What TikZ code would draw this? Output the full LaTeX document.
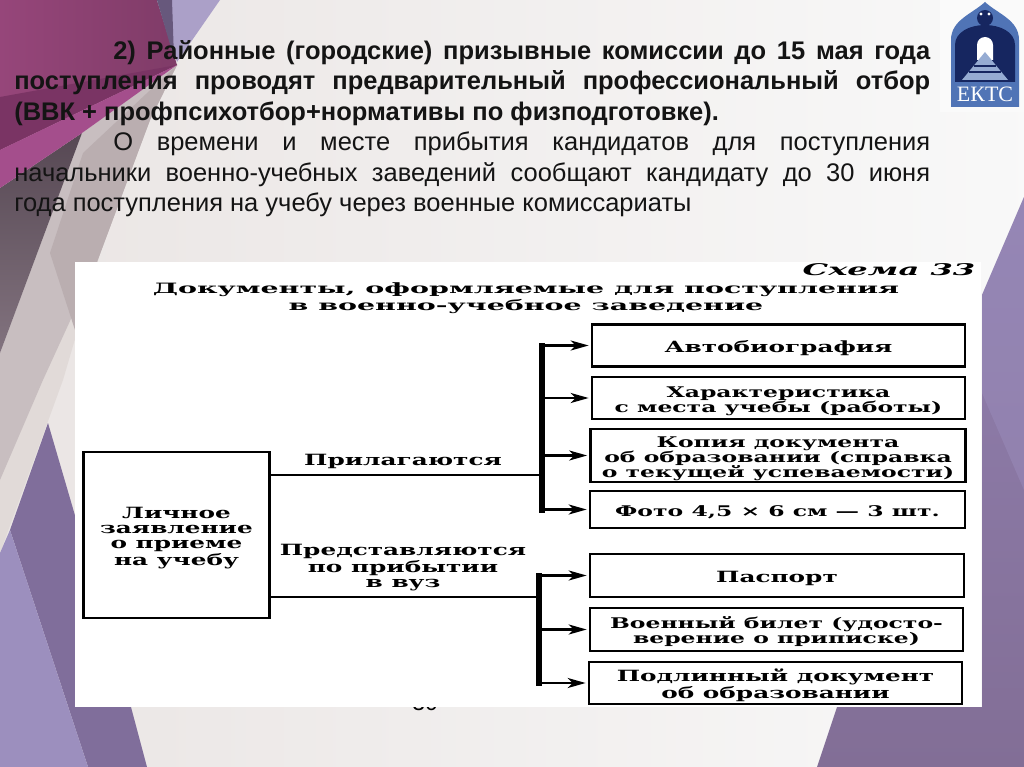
\documentclass[tikz,border=0pt]{standalone}
\usepackage{fontspec}
\setmainfont{Liberation Sans}
\newfontfamily\scanfont[FakeStretch=1.6]{DejaVu Serif}
\newfontfamily\headfont[FakeStretch=2]{DejaVu Serif}
\newfontfamily\logofont{Liberation Serif}
\usetikzlibrary{arrows.meta}
\definecolor{plumtop}{RGB}{150,70,122}
\definecolor{plumdark}{RGB}{122,52,100}
\definecolor{plumpink}{RGB}{164,78,140}
\definecolor{greydark}{RGB}{108,90,104}
\definecolor{greybrown}{RGB}{200,190,192}
\definecolor{greyshade}{RGB}{186,174,176}
\definecolor{greypale}{RGB}{225,218,216}
\definecolor{violetdark}{RGB}{128,110,155}
\definecolor{violetlight}{RGB}{156,143,190}
\definecolor{violettop}{RGB}{145,128,175}
\definecolor{violetlow}{RGB}{130,110,150}
\definecolor{logoblue}{RGB}{80,116,182}
\definecolor{logonavy}{RGB}{22,38,96}
\tikzset{
  docbox/.style={draw,line width=.055cm,fill=white,inner sep=0pt,align=center,
    font=\scanfont\bfseries\fontsize{8.8}{8.6}\selectfont},
  densebox/.style={docbox,font=\scanfont\bfseries\fontsize{8.35}{8.6}\selectfont},
  schemetext/.style={inner sep=0pt,align=center,
    font=\scanfont\bfseries\fontsize{8.8}{8.6}\selectfont},
  feedline/.style={line width=.055cm},
  busline/.style={line width=.12cm},
  branchline/.style={line width=.055cm,shorten >=.04cm,-{Stealth[length=.36cm,width=.2cm,inset=.1cm]}},
}
\begin{document}
\begin{tikzpicture}[x=.02cm,y=-.02cm]
  \useasboundingbox (0,0) rectangle (1024,767);
  \shade[left color=greypale!70!white,right color=white!95!gray] (0,0) rectangle (1024,767);
  % left wedges
  \fill[greypale] (177,65) -- (150,120) -- (110,220) -- (63,380) -- (0,553) -- (0,353) -- (82,133) -- cycle;
  \fill[greybrown] (177,65) -- (150,120) -- (97,262) -- (43,380) -- (0,480) -- (0,353) -- (82,133) -- cycle;
  \fill[greyshade] (177,65) -- (150,120) -- (97,262) -- (75,330) -- (50,253) -- (83,153) -- cycle;
  \shade[top color=greydark!80!black,bottom color=greydark!85!white] (82,133) -- (0,188) -- (0,353) -- cycle;
  \shade[left color=plumtop,right color=plumtop!85!black] (0,0) -- (157,0) -- (177,65) -- (0,150) -- cycle;
  \fill[plumdark] (0,97) -- (177,65) -- (0,150) -- cycle;
  \fill[plumpink] (0,150) -- (177,65) -- (82,133) -- (0,188) -- cycle;
  \fill[violetlight!85!white] (157,0) -- (220,0) -- (177,62) -- cycle;
  \fill[violetdark!80!black] (157,0) -- (172,0) -- (174,58) -- cycle;
  % lower left and right wedges
  \fill[violetdark] (48,423) -- (131,707) -- (147,767) -- (88,767) -- (10,530) -- cycle;
  \fill[violetlight] (10,530) -- (88,767) -- (0,767) -- (0,553) -- cycle;
  \shade[top color=violettop,bottom color=violetlow] (1024,197) -- (982,295) -- (982,707) -- (837,707) -- (817,767) -- (1024,767) -- cycle;
  \fill[violetlight,opacity=.45] (982,295) -- (1024,197) -- (1024,490) -- (982,393) -- cycle;
  \fill[white!96!gray] (940,0) rectangle (1024,112);
  % emblem
  \fill[logoblue] (951,107) -- (951,40) .. controls (951,20) and (972,14) .. (985,2) .. controls (998,14) and (1019,20) .. (1019,40) -- (1019,107) -- cycle;
  \fill[logonavy] (955,82) -- (955,45) .. controls (955,32) and (970,25) .. (985,25) .. controls (1000,25) and (1015,32) .. (1015,45) -- (1015,82) -- cycle;
  \fill[white] (977,60) -- (977,45) arc[start angle=180,end angle=360,radius=8] -- (993,60) -- cycle;
  \fill[logoblue!60!white] (985,52) -- (1008,80) -- (962,80) -- cycle;
  \draw[logonavy,line width=.03cm] (974,66) -- (996,66) (969,72) -- (1001,72);
  \fill[logonavy] (985,18) circle[radius=8];
  \fill[white] (981,14) circle[radius=1.6] (989,14) circle[radius=1.6];
  \node[text=white,inner sep=0pt,font=\logofont\fontsize{12.5}{13}\selectfont] (emblem) at (985,94) {ЕКТС};
  % page number under the panel
  \node[inner sep=0pt,anchor=base,font=\fontsize{13}{14}\selectfont] (pagenum) at (425,710.5) {30};
  % slide text
  \node[anchor=north west,inner sep=0pt,text width=18.32cm,align=justify,text=black!92] (lead) at (14,40) {%
    \fontsize{14.5}{17.36}\selectfont
    \leavevmode\hspace*{1.98cm}\textbf{2) Районные (городские) призывные комиссии до 15 мая года\linebreak
    поступления проводят предварительный профессиональный отбор\linebreak
    (ВВК + профпсихотбор+нормативы по физподготовке).}\par
    \leavevmode\hspace*{1.98cm}О времени и месте прибытия кандидатов для поступления\linebreak
    начальники военно-учебных заведений сообщают кандидату до 30 июня\linebreak
    года поступления на учебу через военные комиссариаты\par};
  % scheme panel
  \fill[white] (75,262) rectangle (981,707);
  \node[schemetext,font=\headfont\bfseries\itshape\fontsize{9.15}{10}\selectfont] (schemenum) at (889,270) {Схема 33};
  \node[schemetext,font=\headfont\bfseries\fontsize{8.1}{9.7}\selectfont] (schemetitle) at (526,298.5) {Документы, оформляемые для поступления\\в военно-учебное заведение};
  \node[docbox,minimum width=3.72cm,minimum height=3.32cm] (zayav) at (176.5,535) {\rule{0pt}{9.5pt}Личное\\заявление\\о приеме\\на учебу};
  \node[docbox,minimum width=7.46cm,minimum height=.84cm] (avto) at (778.5,345.5) {\rule{0pt}{9.5pt}Автобиография};
  \node[densebox,minimum width=7.46cm,minimum height=.84cm] (harakt) at (778.5,398) {\rule{0pt}{9.5pt}Характеристика\\с места учебы (работы)};
  \node[densebox,minimum width=7.5cm,minimum height=1.06cm] (kopia) at (778,455.5) {\rule{0pt}{9.5pt}Копия документа\\об образовании (справка\\о текущей успеваемости)};
  \node[densebox,minimum width=7.5cm,minimum height=.74cm] (foto) at (777.5,509.5) {\rule{0pt}{9.5pt}Фото 4,5 × 6 см — 3 шт.};
  \node[docbox,minimum width=7.48cm,minimum height=.86cm] (pasport) at (777,575.5) {\rule{0pt}{9.5pt}Паспорт};
  \node[densebox,minimum width=7.46cm,minimum height=.86cm] (bilet) at (776.5,629.5) {\rule{0pt}{9.5pt}Военный билет (удосто-\\верение о приписке)};
  \node[docbox,minimum width=7.46cm,minimum height=.84cm] (podlin) at (775.5,683) {\rule{0pt}{9.5pt}Подлинный документ\\об образовании};
  \coordinate (busa) at (542,475);
  \coordinate (busb) at (539,597);
  \draw[feedline] (zayav.east |- busa) -- (busa);
  \draw[feedline] (zayav.east |- busb) -- (busb);
  \node[schemetext] (prilag) at (403,461.5) {Прилагаются};
  \node[schemetext] (predst) at (403,568) {Представляются\\по прибытии\\в вуз};
  \draw[busline,line cap=rect] (busa |- avto.west) -- (busa |- foto.west);
  \draw[busline,line cap=rect] (busb |- pasport.west) -- (busb |- podlin.west);
  \foreach \docname in {avto,harakt,kopia,foto}
    \draw[branchline] (busa |- \docname.west) -- (\docname.west);
  \foreach \docname in {pasport,bilet,podlin}
    \draw[branchline] (busb |- \docname.west) -- (\docname.west);
\end{tikzpicture}
\end{document}
